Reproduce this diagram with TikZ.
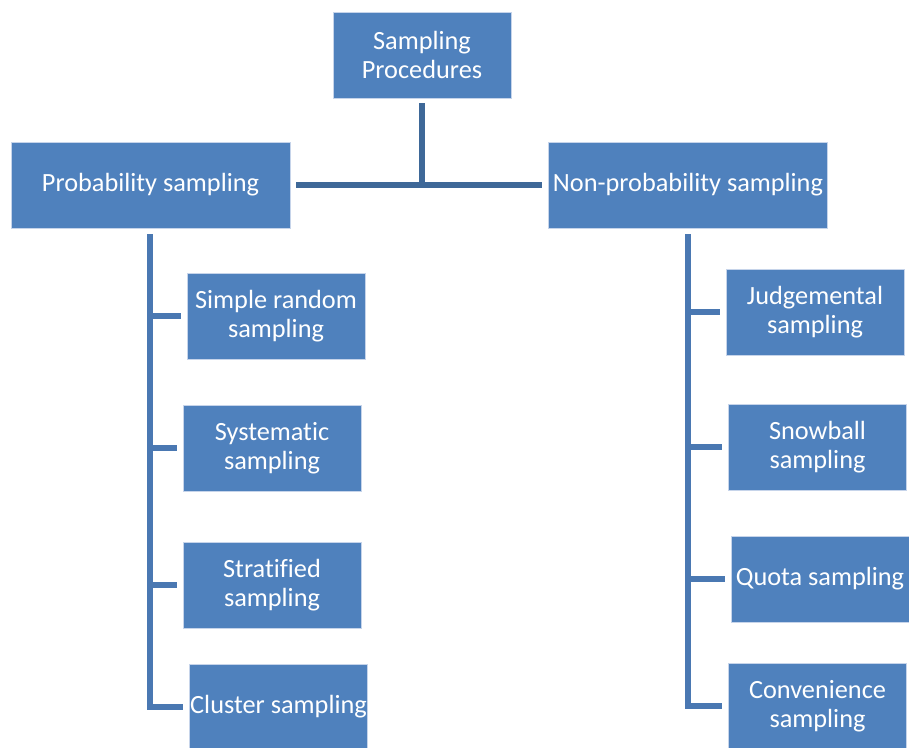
\documentclass[tikz,border=0pt]{standalone}
\usepackage{fontspec}
\setmainfont{Carlito}[Ligatures=NoCommon]
\definecolor{boxfill}{HTML}{4F81BD}
\definecolor{boxedge}{HTML}{C6D4EA}
\definecolor{linkblue}{HTML}{4A78B2}
\definecolor{toplink}{HTML}{3E6898}
\tikzset{
  card/.style={rectangle, fill=boxfill, draw=boxedge, line width=0.6pt,
    minimum width=178pt, minimum height=86pt, inner sep=0pt,
    text=white, align=center, font=\fontsize{26.3}{29.5}\selectfont},
  widecard/.style={card, minimum width=279pt},
  tree/.style={draw=linkblue, line width=5.5pt},
  trunk/.style={draw=toplink, line width=5.5pt}
}
\begin{document}
\begin{tikzpicture}[x=1pt,y=-1pt]
\useasboundingbox (0,0) rectangle (909,747);
\fill[white] (0,0) rectangle (909,747);

% top level
\node[card] (top) at (422,55) {Sampling\\Procedures};
\node[widecard] (prob) at (150.5,185) {Probability sampling};
\node[widecard] (nonp) at (688,185) {Non-probability sampling};

% probability methods
\node[card] (srs)  at (276,316) {Simple random\\sampling};
\node[card] (sys)  at (272,448) {Systematic\\sampling};
\node[card] (str)  at (272,585) {Stratified\\sampling};
\node[card] (clu)  at (278.5,707) {Cluster sampling};

% non-probability methods
\node[card] (jud)  at (815,312) {Judgemental\\sampling};
\node[card] (snow) at (817.5,447) {Snowball\\sampling};
\node[card] (quo)  at (820,579) {Quota sampling};
\node[card] (conv) at (817.5,706) {Convenience\\sampling};

% main split
\coordinate (split) at (422,185);
\draw[trunk] ([yshift=-5pt]top.south) -- (split);
\draw[trunk] ([xshift=6pt]prob.east) -- ([xshift=-6pt]nonp.west);

% probability tree
\coordinate (ltop) at (150,234);
\draw[tree] (ltop) |- ([xshift=-6pt]clu.west);
\draw[tree] (ltop |- srs.west) -- ([xshift=-6pt]srs.west);
\draw[tree] (ltop |- sys.west) -- ([xshift=-6pt]sys.west);
\draw[tree] (ltop |- str.west) -- ([xshift=-6pt]str.west);

% non-probability tree
\coordinate (rtop) at (688,234);
\draw[tree] (rtop) |- ([xshift=-6pt]conv.west);
\draw[tree] (rtop |- jud.west) -- ([xshift=-6pt]jud.west);
\draw[tree] (rtop |- snow.west) -- ([xshift=-6pt]snow.west);
\draw[tree] (rtop |- quo.west) -- ([xshift=-6pt]quo.west);
\end{tikzpicture}
\end{document}
